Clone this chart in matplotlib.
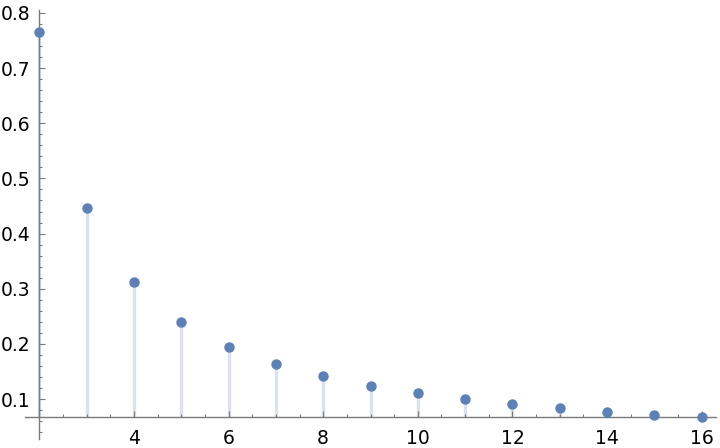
import matplotlib.pyplot as plt
from matplotlib.ticker import MultipleLocator, FixedLocator

n_values = [2, 3, 4, 5, 6, 7, 8, 9, 10, 11, 12, 13, 14, 15, 16]
y_values = [0.766, 0.446, 0.312, 0.240, 0.195, 0.164, 0.142, 0.124,
            0.111, 0.100, 0.091, 0.084, 0.077, 0.071, 0.067]
x_ticks = [4, 6, 8, 10, 12, 14, 16]
y_ticks = [0.1, 0.2, 0.3, 0.4, 0.5, 0.6, 0.7, 0.8]

axis_origin = 0.0674
point_color = "#5e81b5"
stem_color = "#dbe2ee"
axis_color = "#7a7a7a"

fig = plt.figure(figsize=(7.2, 4.48), dpi=100)
ax = fig.add_axes([25 / 720, 1 - 439 / 448, 691 / 720, 429 / 448])

ax.vlines(n_values, axis_origin, y_values, color=stem_color, linewidth=2.4, zorder=1)
ax.plot(n_values, y_values, "o", color=point_color, markersize=6.5, zorder=3,
        clip_on=False)

ax.set_xlim(1.7, 16.3)
ax.set_ylim(0.0275, 0.8054)

for side in ("top", "right"):
    ax.spines[side].set_visible(False)
ax.spines["left"].set_position(("data", 2))
ax.spines["bottom"].set_position(("data", axis_origin))
for side in ("left", "bottom"):
    ax.spines[side].set_color(axis_color)
    ax.spines[side].set_linewidth(1.0)

ax.xaxis.set_major_locator(FixedLocator([2] + x_ticks))
ax.set_xticklabels([""] + [str(t) for t in x_ticks])
ax.xaxis.set_minor_locator(MultipleLocator(0.5))
ax.yaxis.set_major_locator(FixedLocator(y_ticks))
ax.set_yticklabels([f"{t:.1f}" for t in y_ticks])
ax.yaxis.set_minor_locator(MultipleLocator(0.02))

ax.tick_params(which="both", direction="in", color=axis_color, width=0.8,
               labelsize=13.5, labelcolor="black")
ax.tick_params(which="major", length=4.5)
ax.tick_params(which="minor", length=2.5)
ax.tick_params(axis="x", pad=9)
ax.tick_params(axis="y", pad=6)

fig.savefig("out.png", dpi=100)
